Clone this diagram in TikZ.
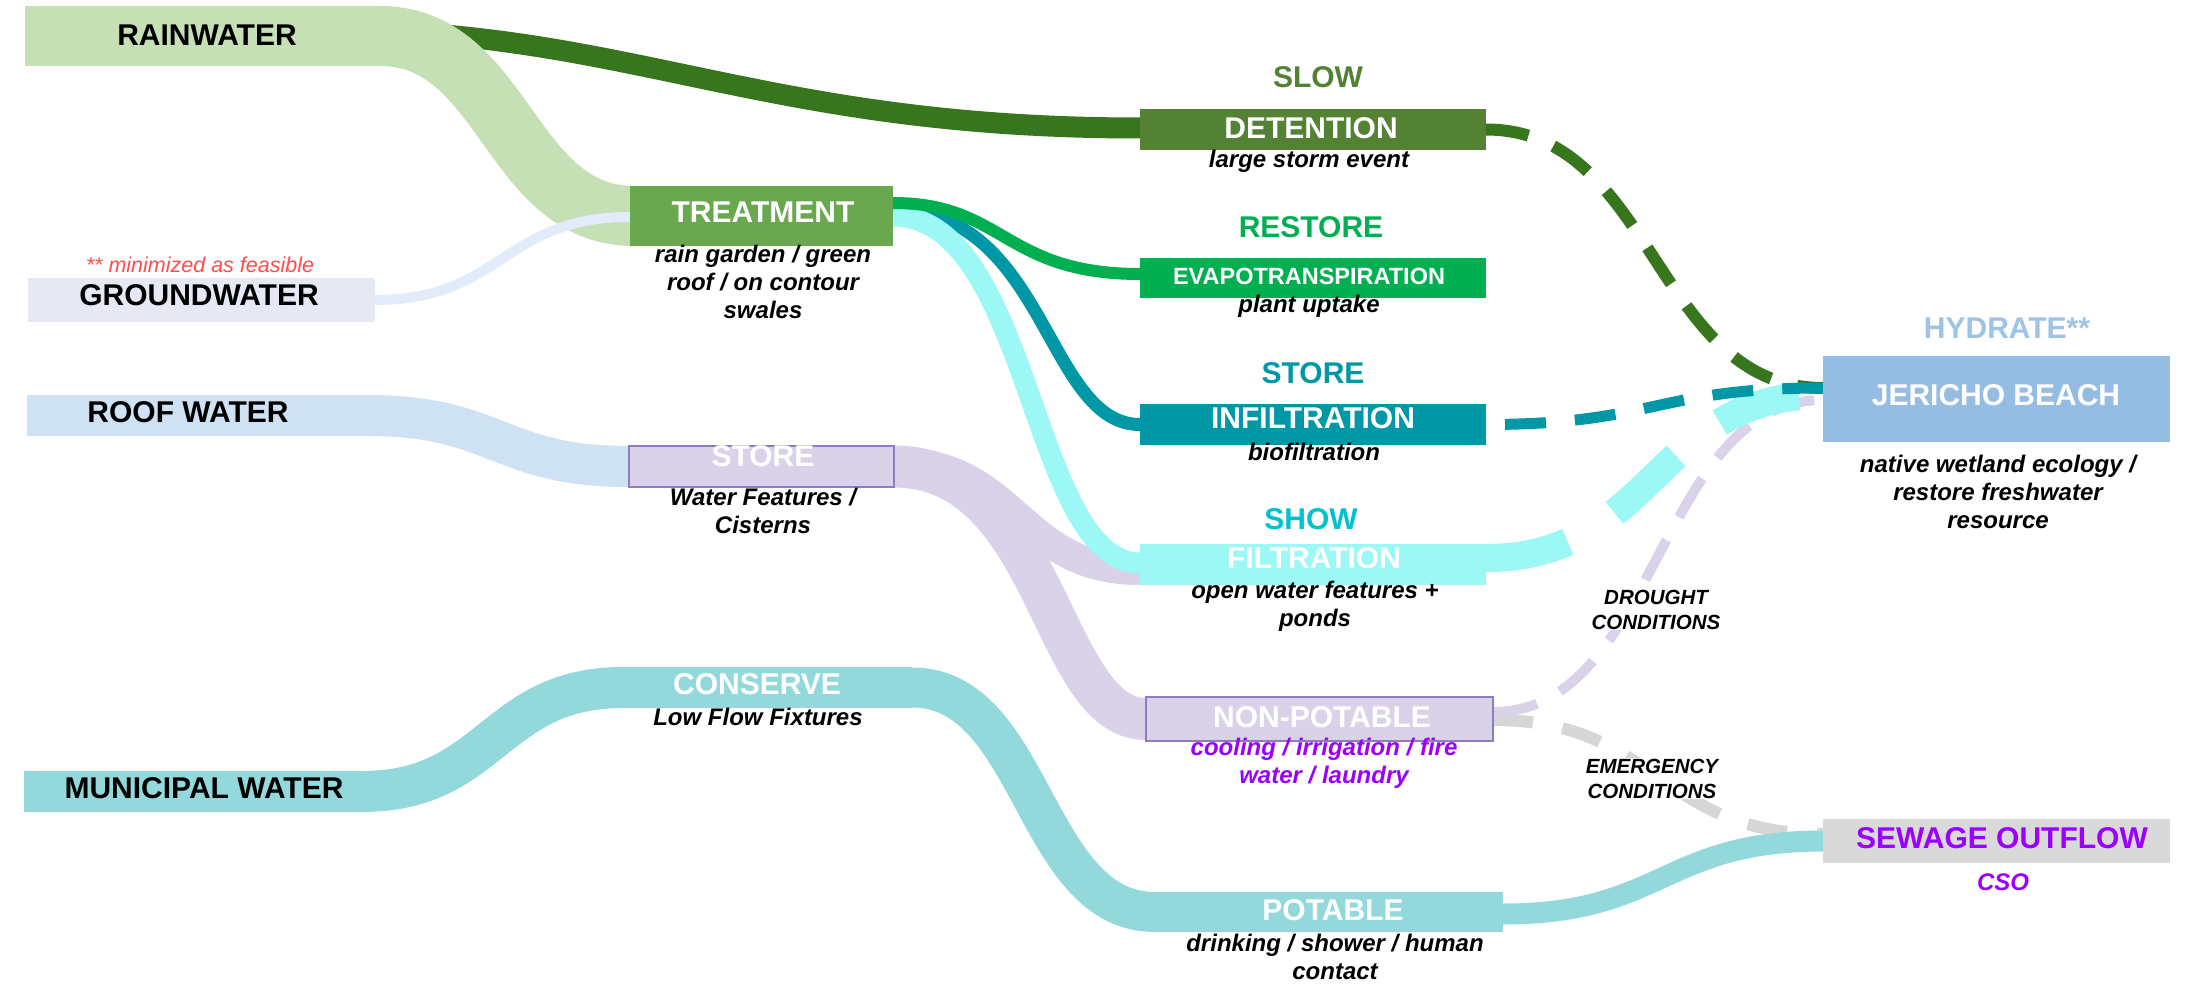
\documentclass[tikz,border=0pt]{standalone}
\usepackage{fontspec}
\setmainfont{Liberation Sans}
\usetikzlibrary{calc}
\pgfdeclarelayer{bg}
\pgfsetlayers{bg,main}
\definecolor{rainC}{HTML}{C5E0B4}
\definecolor{groundC}{HTML}{E6E8F4}
\definecolor{groundR}{HTML}{E2EBFA}
\definecolor{roofC}{HTML}{CFE2F3}
\definecolor{muniC}{HTML}{93D9DC}
\definecolor{treatC}{HTML}{6AA84F}
\definecolor{lavC}{HTML}{D9D2E9}
\definecolor{lavB}{HTML}{8E7CC3}
\definecolor{detC}{HTML}{548235}
\definecolor{dkgreen}{HTML}{38761D}
\definecolor{evapC}{HTML}{00B050}
\definecolor{infC}{HTML}{0097A7}
\definecolor{filtC}{HTML}{9BF8F4}
\definecolor{jerC}{HTML}{95BDE3}
\definecolor{sewC}{HTML}{D9D9D9}
\definecolor{grayD}{HTML}{D6D6D6}
\definecolor{violetT}{HTML}{9900FF}
\definecolor{redT}{HTML}{FF4D4D}
\definecolor{showC}{HTML}{00C2CC}
\definecolor{hydC}{HTML}{9DC3E6}
\begin{document}
\begin{tikzpicture}[x=1pt,y=-1pt,
  boxn/.style={inner sep=0pt,outer sep=0pt},
  bigtxt/.style={font=\fontsize{30}{36}\selectfont\bfseries,inner sep=0pt},
  desc/.style={font=\fontsize{24}{28}\selectfont\bfseries\itshape,align=center,inner sep=0pt},
  cond/.style={font=\fontsize{20.5}{25}\selectfont\bfseries\itshape,align=center,inner sep=1pt,fill=white}]
\useasboundingbox (0,0) rectangle (2185,984);

% boxes
\node[boxn,fill=rainC,minimum width=355pt,minimum height=60pt] (rain) at (202.5,36) {};
\node[boxn,fill=groundC,minimum width=347pt,minimum height=44pt] (ground) at (201.5,300) {};
\node[boxn,fill=roofC,minimum width=340pt,minimum height=41pt] (roof) at (197,415.5) {};
\node[boxn,fill=muniC,minimum width=338pt,minimum height=41pt] (muni) at (193,791.5) {};
\node[boxn,fill=treatC,minimum width=263pt,minimum height=60pt] (treat) at (761.5,216) {};
\node[boxn,fill=lavC,draw=lavB,line width=2.5pt,minimum width=265pt,minimum height=41pt] (storeL) at (761.5,466.5) {};
\node[boxn,fill=muniC,minimum width=289pt,minimum height=41pt] (cons) at (767.5,687.5) {};
\node[boxn,fill=detC,minimum width=346pt,minimum height=41pt] (det) at (1313,129.5) {};
\node[boxn,fill=evapC,minimum width=346pt,minimum height=40pt] (evap) at (1313,278) {};
\node[boxn,fill=infC,minimum width=346pt,minimum height=41pt] (inf) at (1313,424.5) {};
\node[boxn,fill=filtC,minimum width=346pt,minimum height=41pt] (filt) at (1313,564.5) {};
\node[boxn,fill=lavC,draw=lavB,line width=2.5pt,minimum width=347pt,minimum height=44pt] (np) at (1319.5,719) {};
\node[boxn,fill=muniC,minimum width=348pt,minimum height=40pt] (pot) at (1329,912) {};
\node[boxn,fill=jerC,minimum width=347pt,minimum height=86pt] (jer) at (1996.5,399) {};
\node[boxn,fill=sewC,minimum width=347pt,minimum height=44pt] (sew) at (1996.5,841) {};
\coordinate (dg0) at (330,30);

\begin{pgfonlayer}{bg}
\fill[white] (0,0) rectangle (2185,984);
% ribbons
\draw[dkgreen,line width=21pt] (dg0) .. controls +(300,0) and +(-380,0) .. ($(det.west)+(0,-1.5)$);
\draw[rainC,line width=60pt] ($(rain.east)+(-4,0)$) -- (rain.east) .. controls +(125,0) and +(-125,0) .. ($(treat.west)+(4,0)$);
\draw[groundR,line width=10pt] (ground.east) .. controls +(127,0) and +(-127,0) .. ($(treat.west)+(0,1)$);
\draw[roofC,line width=41pt] ($(roof.east)+(-4,0)$) -- (roof.east) .. controls +(131,0) and +(-131,0) .. (storeL.west);
\draw[lavC,line width=42pt] (storeL.east) .. controls +(156,0) and +(-96,0) .. (np.west);
\coordinate (sf0) at ($(storeL.east)+(0,-4.5)$);
\coordinate (sf1) at ($(filt.west)+(0,5.5)$);
\draw[lavC,line width=30pt] (sf0) .. controls +(123,0) and +(-123,0) .. (sf1);
\draw[infC,line width=13pt] ($(treat.east)+(0,-6)$) .. controls +(153,0) and +(-94,0) .. (inf.west);
\draw[filtC,line width=21pt] (treat.east) .. controls +(138,0) and +(-109,0) .. ($(filt.west)+(0,-1.5)$);
\draw[evapC,line width=12pt] ($(treat.east)+(0,-13)$) .. controls +(111,0) and +(-136,0) .. ($(evap.west)+(0,-4)$);
\draw[muniC,line width=41pt] ($(muni.east)+(-4,0)$) -- (muni.east) .. controls +(130,0) and +(-130,0) .. (cons.west) -- ($(cons.west)+(4,0)$);
\draw[muniC,line width=40pt] ($(cons.east)+(-4,0)$) -- (cons.east) .. controls +(122,0) and +(-122,0) .. (pot.west) -- ($(pot.west)+(4,0)$);
% dashed connectors
\draw[grayD,line width=12pt,dash pattern=on 40pt off 30pt] ($(np.east)+(0,1)$) .. controls +(165,0) and +(-165,0) .. ($(sew.west)+(0,-7)$);
\draw[lavC,line width=10pt,dash pattern=on 45pt off 26pt] ($(np.east)+(0,-7)$) .. controls +(165,0) and +(-165,0) .. ($(jer.west)+(0,1)$);
\draw[filtC,line width=28pt,dash pattern=on 84pt off 55pt] ($(filt.east)+(0,-6.5)$) .. controls +(168,0) and +(-168,0) .. ($(jer.west)+(0,-4)$);
\draw[dkgreen,line width=12pt,dash pattern=on 43pt off 27pt] (det.east) .. controls +(168,0) and +(-168,0) .. ($(jer.west)+(0,-11)$);
\draw[infC,line width=11pt,dash pattern=on 41pt off 29pt,dash phase=51pt] (inf.east) .. controls +(168,0) and +(-168,0) .. ($(jer.west)+(0,-11)$);
\draw[muniC,line width=21pt] ($(pot.east)+(0,2)$) .. controls +(160,0) and +(-160,0) .. (sew.west);
\end{pgfonlayer}

% box texts
\node[bigtxt] (rain-t) at (207,35) {RAINWATER};
\node[bigtxt] (ground-t) at (199,295) {GROUNDWATER};
\node[bigtxt] (roof-t) at (188,412) {ROOF WATER};
\node[bigtxt] (muni-t) at (204,788) {MUNICIPAL WATER};
\node[bigtxt,white] (treat-t) at (763,212) {TREATMENT};
\node[bigtxt,white] (storeL-t) at (763,456) {STORE};
\node[bigtxt,white] (cons-t) at (757,684) {CONSERVE};
\node[bigtxt,white] (det-t) at (1311,128) {DETENTION};
\node[bigtxt,white,font=\fontsize{23.5}{28}\selectfont\bfseries] (evap-t) at (1309,276) {EVAPOTRANSPIRATION};
\node[bigtxt,white] (inf-t) at (1313,418) {INFILTRATION};
\node[bigtxt,white] (filt-t) at (1314,558) {FILTRATION};
\node[bigtxt,white] (np-t) at (1322,717) {NON-POTABLE};
\node[bigtxt,white] (pot-t) at (1333,910) {POTABLE};
\node[bigtxt,white] (jer-t) at (1996,395) {JERICHO BEACH};
\node[bigtxt,violetT] (sew-t) at (2002,838) {SEWAGE OUTFLOW};

% category labels
\node[bigtxt,detC] (slow) at (1318,77) {SLOW};
\node[bigtxt,evapC] (restore) at (1311,227) {RESTORE};
\node[bigtxt,infC] (storeT) at (1313,373) {STORE};
\node[bigtxt,showC] (show) at (1311,519) {SHOW};
\node[bigtxt,hydC] (hydrate) at (2007,328) {HYDRATE**};

% descriptions
\node[font=\fontsize{21.5}{25}\selectfont\itshape,redT,inner sep=0pt] (min) at (200,265) {** minimized as feasible};
\node[desc] (treat-d) at (763,282) {rain garden / green\\roof / on contour\\swales};
\node[desc] (det-d) at (1309,161) {large storm event};
\node[desc] (evap-d) at (1309,306) {plant uptake};
\node[desc] (inf-d) at (1314,452) {biofiltration};
\node[desc] (filt-d) at (1315,606) {open water features +\\ponds};
\node[desc,violetT] (np-d) at (1324,763) {cooling / irrigation / fire\\water / laundry};
\node[desc] (pot-d) at (1335,957) {drinking / shower / human\\contact};
\node[desc] (storeL-d) at (763,511) {Water Features /\\Cisterns};
\node[desc] (cons-d) at (758,717) {Low Flow Fixtures};
\node[desc] (jer-d) at (1998,492) {native wetland ecology /\\restore freshwater\\resource};
\node[desc,violetT] (sew-d) at (2003,882) {CSO};
\node[cond] (drought) at (1656,609.5) {DROUGHT\\CONDITIONS};
\node[cond] (emerg) at (1652,778.5) {EMERGENCY\\CONDITIONS};
\end{tikzpicture}
\end{document}
